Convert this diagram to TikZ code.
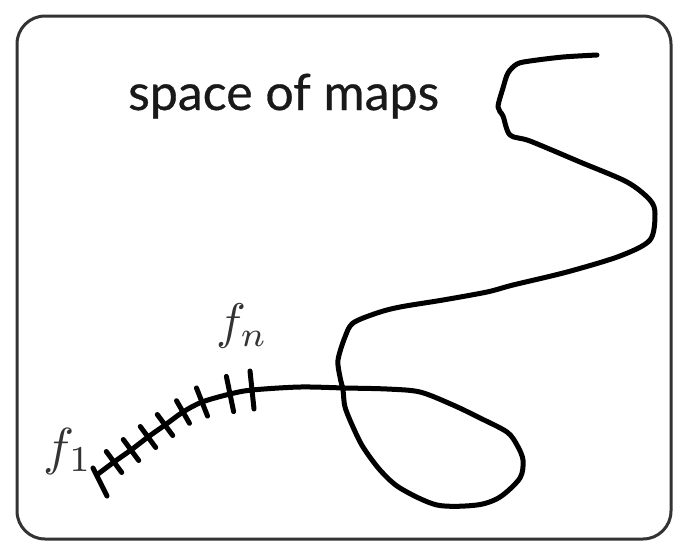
\documentclass[tikz,border=0pt]{standalone}
\usepackage{fontspec}
\newfontfamily\labelfont[FakeBold=0.6]{Lato}
\begin{document}
\begin{tikzpicture}[x=1pt,y=-1pt,
  frame/.style={draw=black!80, line width=3pt, rounded corners=28pt},
  pathline/.style={draw=black, line width=5pt, line join=round, line cap=round},
  tickline/.style={draw=black, line width=5pt, line cap=round},
  title/.style={font=\labelfont\fontsize{50}{60}\selectfont, text=black!90, inner sep=0pt},
  mathlabel/.style={inner sep=0pt, text=black!80}]
\useasboundingbox (0,0) rectangle (673,542);
\draw[frame] (17,16) rectangle (671,539);
\node[title, anchor=base west] (space) at (128,110) {space of maps};
\draw[pathline] plot[smooth, tension=0.5] coordinates {
 (597,55) (563,57) (530,61) (517,64) (508,73) (503,88) (498,107) (503,116)
 (510,135) (530,141) (580,162) (627,182) (650,200) (655,214) (650,240)
 (620,256) (567,272) (513,285) (487,292) (443,300) (400,307) (377,313)
 (353,323) (345,337) (338,360) (340,377) (343,390) (345,407) (353,427)
 (363,447) (380,470) (400,488) (437,505) (477,505) (500,497) (520,478)
 (523,460) (517,445) (507,432) (480,418) (453,405) (420,392) (387,389)
 (345,388) (300,387) (252,390) (230,394) (202,402) (183,412) (165,425)
 (148,437) (131,450) (114,462) (98,474)};
% ticks
\draw[tickline] (93,468) -- (107,496);
\draw[tickline] (106.3,451.5) -- (121.7,472.5);
\draw[tickline] (123.3,439.5) -- (138.7,460.5);
\draw[tickline] (140.3,426.5) -- (155.7,447.5);
\draw[tickline] (157.3,414.5) -- (172.7,435.5);
\draw[tickline] (176.5,400.7) -- (189.5,423.3);
\draw[tickline] (196.5,388) -- (207.5,416);
\draw[tickline] (226.4,376.4) -- (233.6,411.6);
\draw[tickline] (250,371) -- (254,409);
\node[mathlabel] (fn) at (242,326) {\scalebox{5}{$f_n$}};
\node[mathlabel] (f1) at (68,451) {\scalebox{5.2}{$f_1$}};
\end{tikzpicture}
\end{document}
